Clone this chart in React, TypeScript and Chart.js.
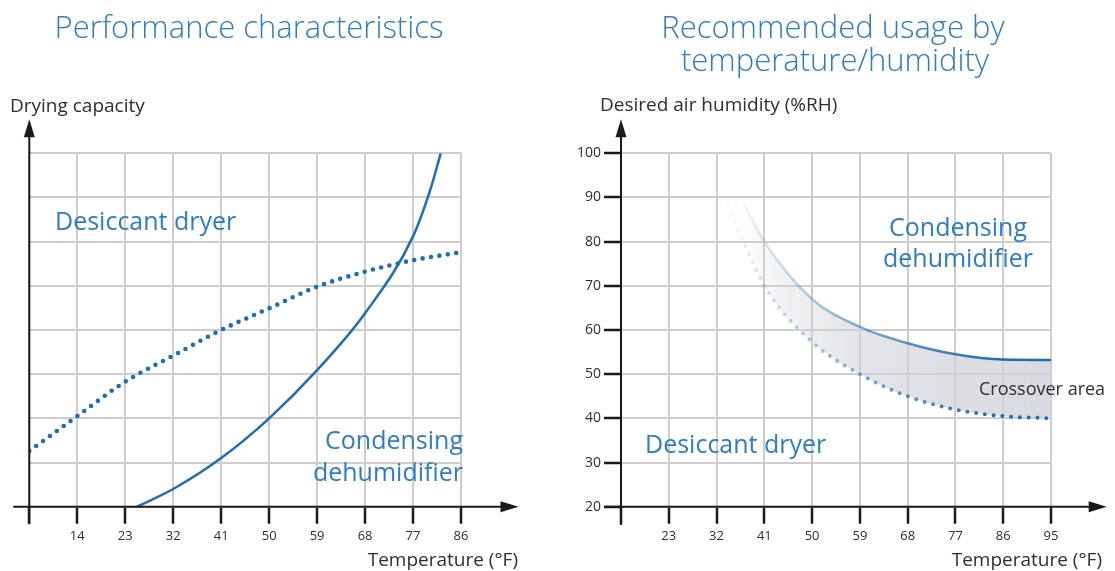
import React, { useEffect, useRef } from 'react';
import { Chart, registerables } from 'chart.js';

Chart.register(...registerables);

// ---------- data ----------
// Left chart: Performance characteristics (drying capacity vs temperature)
const leftTempTicks = [5, 14, 23, 32, 41, 50, 59, 68, 77, 86];
const capacityGrid = [0, 1, 2, 3, 4, 5, 6, 7, 8];
const desiccantTemp = [5, 14, 23, 32, 41, 50, 59, 68, 77, 86];
const desiccantCapacity = [1.26, 2.05, 2.83, 3.42, 4.0, 4.49, 4.98, 5.32, 5.58, 5.76];
const condensingTemp = [25.2, 32, 41, 50, 59, 68, 77, 80.2, 82.2];
const condensingCapacity = [0, 0.4, 1.1, 2.0, 3.09, 4.38, 6.12, 7.16, 8];

// Right chart: Recommended usage by temperature/humidity
const rightTempTicks = [14, 23, 32, 41, 50, 59, 68, 77, 86, 95];
const humidityTicks = [20, 30, 40, 50, 60, 70, 80, 90, 100];
const condensingRHTemp = [37, 41, 50, 59, 68, 77, 86, 95];
const condensingRH = [89, 80, 67, 60.7, 57, 54.5, 53.3, 53.2];
const desiccantRHTemp = [33.5, 41, 50, 59, 68, 77, 86, 95];
const desiccantRH = [90, 70, 57.3, 50, 45, 42, 40.5, 40];

// ---------- style ----------
const FONT = '"Open Sans", "Noto Sans", sans-serif';
const BLUE_TEXT = '#2e7cc2';
const LINE_BLUE = '#1f6db3';
const LINE_RGB = '31,109,179';
const DARK = '#2e2e2e';
const AXIS = '#1a1a1a';
const GRID = '#cdcdcd';

const toPoints = (xs: number[], ys: number[]) => xs.map((x, i) => ({ x, y: ys[i] }));

const arrowPlugin = (o: { xStart: number; xTip: number; yBelow: number; yTip: number }) => ({
  id: 'axisArrows',
  afterDraw(chart: any) {
    const { ctx, chartArea } = chart;
    const y0 = chartArea.bottom;
    const x0 = chartArea.left;
    ctx.save();
    ctx.strokeStyle = AXIS;
    ctx.fillStyle = AXIS;
    ctx.lineWidth = 2;
    ctx.beginPath();
    ctx.moveTo(chartArea.left + o.xStart, y0);
    ctx.lineTo(chartArea.right + o.xTip - 16, y0);
    ctx.moveTo(x0, y0 + o.yBelow);
    ctx.lineTo(x0, chartArea.top + o.yTip + 16);
    ctx.stroke();
    const xt = chartArea.right + o.xTip;
    ctx.beginPath();
    ctx.moveTo(xt, y0);
    ctx.lineTo(xt - 18, y0 - 5.5);
    ctx.lineTo(xt - 18, y0 + 5.5);
    ctx.closePath();
    ctx.fill();
    const yt = chartArea.top + o.yTip;
    ctx.beginPath();
    ctx.moveTo(x0, yt);
    ctx.lineTo(x0 - 5.5, yt + 18);
    ctx.lineTo(x0 + 5.5, yt + 18);
    ctx.closePath();
    ctx.fill();
    ctx.restore();
  },
});

const gradient = (chart: any, stops: [number, number][], rgb: string) => {
  const { ctx, chartArea, scales } = chart;
  if (!chartArea) return `rgba(${rgb},1)`;
  const xs = scales.x;
  const p0 = xs.getPixelForValue(stops[0][0]);
  const p1 = xs.getPixelForValue(stops[stops.length - 1][0]);
  const g = ctx.createLinearGradient(p0, 0, p1, 0);
  stops.forEach(([t, a]) => {
    g.addColorStop(Math.min(1, Math.max(0, (xs.getPixelForValue(t) - p0) / (p1 - p0))), `rgba(${rgb},${a})`);
  });
  return g;
};

function LeftChart() {
  const ref = useRef<HTMLCanvasElement>(null);
  useEffect(() => {
    const chart = new Chart(ref.current!, {
      type: 'scatter',
      data: {
        datasets: [
          {
            label: 'Desiccant dryer',
            data: toPoints(desiccantTemp, desiccantCapacity),
            showLine: true,
            borderColor: LINE_BLUE,
            borderWidth: 4.6,
            borderDash: [0, 8.5],
            borderCapStyle: 'round',
            pointRadius: 0,
            cubicInterpolationMode: 'monotone',
            fill: false,
          },
          {
            label: 'Condensing dehumidifier',
            data: toPoints(condensingTemp, condensingCapacity),
            showLine: true,
            borderColor: LINE_BLUE,
            borderWidth: 2.5,
            pointRadius: 0,
            cubicInterpolationMode: 'monotone',
            fill: false,
          },
        ],
      },
      options: {
        animation: false,
        responsive: false,
        devicePixelRatio: 1,
        layout: { padding: { top: 153.3, right: 99, left: 0, bottom: 0 } },
        plugins: { legend: { display: false }, tooltip: { enabled: false } },
        scales: {
          x: {
            type: 'linear',
            min: 5,
            max: 86,
            afterBuildTicks: (s: any) => { s.ticks = leftTempTicks.map((v) => ({ value: v })); },
            afterFit: (s: any) => { s.height = 64.3; },
            border: { display: false },
            grid: { color: GRID, lineWidth: 2, tickColor: AXIS, tickWidth: 2.5, tickLength: 17 },
            ticks: {
              autoSkip: false, maxRotation: 0, padding: 5, color: DARK,
              font: { family: FONT, size: 13 },
              callback: (v: any) => (v === leftTempTicks[0] ? '' : String(v)),
            },
          },
          y: {
            type: 'linear',
            min: 0,
            max: 8,
            afterBuildTicks: (s: any) => { s.ticks = capacityGrid.map((v) => ({ value: v })); },
            afterFit: (s: any) => { s.width = 29.3; },
            border: { display: false },
            grid: { color: GRID, lineWidth: 2, drawTicks: false },
            ticks: { display: false },
          },
        },
      } as any,
      plugins: [arrowPlugin({ xStart: -16, xTip: 57.5, yBelow: 17.5, yTip: -34 })],
    });
    return () => chart.destroy();
  }, []);
  return <canvas ref={ref} width={560} height={571} style={{ position: 'absolute', left: 0, top: 0, width: 560, height: 571 }} />;
}

function RightChart() {
  const ref = useRef<HTMLCanvasElement>(null);
  useEffect(() => {
    const lineStops: [number, number][] = [[36, 0], [41, 0.18], [50, 0.36], [59, 0.55], [68, 0.72], [77, 0.87], [86, 1]];
    const chart = new Chart(ref.current!, {
      type: 'scatter',
      data: {
        datasets: [
          {
            label: 'Condensing dehumidifier',
            data: toPoints(condensingRHTemp, condensingRH),
            showLine: true,
            borderColor: (c: any) => gradient(c.chart, lineStops, LINE_RGB),
            borderWidth: 2.5,
            pointRadius: 0,
            cubicInterpolationMode: 'monotone',
            fill: false,
          },
          {
            label: 'Desiccant dryer',
            data: toPoints(desiccantRHTemp, desiccantRH),
            showLine: true,
            borderColor: (c: any) => gradient(c.chart, [[33, 0], [41, 0.2], [50, 0.38], [59, 0.55], [68, 0.72], [77, 0.87], [86, 1]], LINE_RGB),
            borderWidth: 4,
            borderDash: [0, 8.8],
            borderCapStyle: 'round',
            pointRadius: 0,
            cubicInterpolationMode: 'monotone',
            fill: '-1',
            backgroundColor: (c: any) => gradient(c.chart, [[36, 0], [45, 0.3], [60, 0.6], [80, 0.75], [95, 0.8]], '208,210,216'),
          },
        ],
      },
      options: {
        animation: false,
        responsive: false,
        devicePixelRatio: 1,
        layout: { padding: { top: 153.3, right: 64, left: 0, bottom: 0 } },
        plugins: { legend: { display: false }, tooltip: { enabled: false }, filler: { drawTime: 'beforeDatasetsDraw' } },
        scales: {
          x: {
            type: 'linear',
            min: 14,
            max: 95,
            afterBuildTicks: (s: any) => { s.ticks = rightTempTicks.map((v) => ({ value: v })); },
            afterFit: (s: any) => { s.height = 64.3; },
            border: { display: false },
            grid: { color: GRID, lineWidth: 2, tickColor: AXIS, tickWidth: 2.5, tickLength: 17 },
            ticks: {
              autoSkip: false, maxRotation: 0, padding: 5, color: DARK,
              font: { family: FONT, size: 13 },
              callback: (v: any) => (v === rightTempTicks[0] ? '' : String(v)),
            },
          },
          y: {
            type: 'linear',
            min: 20,
            max: 100,
            afterBuildTicks: (s: any) => { s.ticks = humidityTicks.map((v) => ({ value: v })); },
            afterFit: (s: any) => { s.width = 61; },
            border: { display: false },
            grid: { color: GRID, lineWidth: 2, tickColor: AXIS, tickWidth: 2.5, tickLength: 17 },
            ticks: { padding: 3, color: DARK, font: { family: FONT, size: 14 } },
          },
        },
      } as any,
      plugins: [arrowPlugin({ xStart: -17, xTip: 55.7, yBelow: 18.3, yTip: -34 })],
    });
    return () => chart.destroy();
  }, []);
  return <canvas ref={ref} width={555} height={571} style={{ position: 'absolute', left: 560, top: 0, width: 555, height: 571 }} />;
}

type Label = { text: string; x: number; y: number; align: 'left' | 'center' | 'right'; size: number; color: string; weight?: number };

const labels: Label[] = [
  { text: 'Performance characteristics', x: 249, y: 26, align: 'center', size: 31, color: BLUE_TEXT, weight: 300 },
  { text: 'Recommended usage by', x: 833, y: 26, align: 'center', size: 31, color: BLUE_TEXT, weight: 300 },
  { text: 'temperature/humidity', x: 835, y: 59, align: 'center', size: 31, color: BLUE_TEXT, weight: 300 },
  { text: 'Drying capacity', x: 10, y: 104.5, align: 'left', size: 19, color: DARK },
  { text: 'Desired air humidity (%RH)', x: 600, y: 104, align: 'left', size: 19, color: DARK },
  { text: 'Temperature (°F)', x: 518, y: 558.5, align: 'right', size: 19, color: DARK },
  { text: 'Temperature (°F)', x: 1102, y: 558.5, align: 'right', size: 19, color: DARK },
  { text: 'Desiccant dryer', x: 55, y: 219.7, align: 'left', size: 25, color: BLUE_TEXT },
  { text: 'Condensing', x: 463, y: 439.2, align: 'right', size: 25, color: BLUE_TEXT },
  { text: 'dehumidifier', x: 463, y: 470.8, align: 'right', size: 25, color: BLUE_TEXT },
  { text: 'Condensing', x: 958, y: 225.5, align: 'center', size: 25, color: BLUE_TEXT },
  { text: 'dehumidifier', x: 958, y: 256.7, align: 'center', size: 25, color: BLUE_TEXT },
  { text: 'Desiccant dryer', x: 645, y: 442.8, align: 'left', size: 25, color: BLUE_TEXT },
  { text: 'Crossover area', x: 979, y: 388.3, align: 'left', size: 18, color: DARK },
];

export default function App() {
  return (
    <div style={{ position: 'fixed', left: 0, top: 0, width: 1115, height: 571, background: '#ffffff', overflow: 'hidden' }}>
      <LeftChart />
      <RightChart />
      {labels.map((l, i) => {
        const tx = l.align === 'center' ? '-50%' : l.align === 'right' ? '-100%' : '0';
        return (
          <div
            key={i}
            style={{
              position: 'absolute',
              left: l.x,
              top: l.y,
              transform: `translate(${tx}, -50%)`,
              fontFamily: FONT,
              fontSize: l.size,
              fontWeight: l.weight ?? 400,
              lineHeight: 1,
              color: l.color,
              whiteSpace: 'nowrap',
            }}
          >
            {l.text}
          </div>
        );
      })}
    </div>
  );
}
